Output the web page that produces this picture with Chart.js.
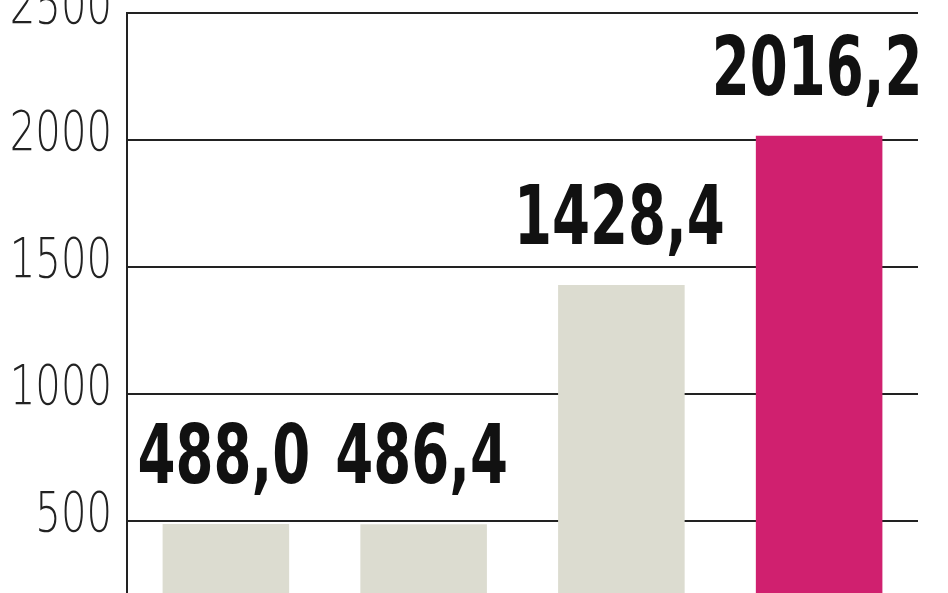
<!DOCTYPE html>
<html>
<head>
<meta charset="utf-8">
<script src="https://cdn.jsdelivr.net/npm/chart.js@4"></script>
<style>
  html, body { margin: 0; padding: 0; background: #fff; }
  #wrap { width: 948px; height: 593px; position: relative; }
</style>
</head>
<body>
<div id="wrap"><canvas id="barChart"></canvas></div>
<script>
const categories = ['A', 'B', 'C', 'D'];
const values = [488.0, 486.4, 1428.4, 2016.2];
const valueLabels = ['488,0', '486,4', '1428,4', '2016,2'];
const barColors = ['#dcdcd0', '#dcdcd0', '#dcdcd0', '#d0206f'];
const tickValues = [500, 1000, 1500, 2000, 2500];

// condensed text: the source uses a narrow font we don't have, so squeeze horizontally
function drawSqueezed(ctx, text, x, y, sx, align) {
    ctx.save();
    ctx.translate(x, y);
    ctx.scale(sx, 1);
    ctx.textAlign = align;
    ctx.fillText(text, 0, 0);
    ctx.restore();
}

const valueLabelPlugin = {
    id: 'valueLabels',
    afterDatasetsDraw(chart) {
        const ctx = chart.ctx;
        const meta = chart.getDatasetMeta(0);
        ctx.save();
        ctx.font = "bold 82px 'DejaVu Sans Condensed', 'DejaVu Sans', sans-serif";
        ctx.fillStyle = '#111';
        ctx.textBaseline = 'alphabetic';
        meta.data.forEach((bar, i) => {
            drawSqueezed(ctx, valueLabels[i], bar.x - 2, bar.y - 41, 0.74, 'center');
        });
        ctx.restore();
    }
};

// y tick labels, drawn by hand so they can be condensed
const tickLabelPlugin = {
    id: 'tickLabels',
    afterDraw(chart) {
        const ctx = chart.ctx;
        const y = chart.scales.y;
        ctx.save();
        ctx.font = "200 55px 'DejaVu Sans', sans-serif";
        ctx.fillStyle = '#222';
        ctx.textBaseline = 'alphabetic';
        tickValues.forEach(v => {
            drawSqueezed(ctx, String(v), y.right - 15, y.getPixelForValue(v) + 10, 0.73, 'right');
        });
        ctx.restore();
    }
};

const ctx = document.getElementById('barChart');
new Chart(ctx, {
    type: 'bar',
    data: {
        labels: categories,
        datasets: [{
            data: values,
            backgroundColor: barColors,
            borderWidth: 0,
            categoryPercentage: 1,
            barPercentage: 0.64
        }]
    },
    options: {
        responsive: true,
        maintainAspectRatio: false,
        animation: false,
        layout: { padding: { top: 13, right: 30, bottom: 0, left: 0 } },
        plugins: {
            legend: { display: false },
            tooltip: { enabled: false }
        },
        scales: {
            x: { display: false },
            y: {
                min: 216,
                max: 2500,
                afterBuildTicks: (axis) => {
                    axis.ticks = tickValues.map(v => ({ value: v }));
                },
                afterFit: (scale) => {
                    scale.width = 127;
                    scale.paddingTop = 0;
                    scale.paddingBottom = 0;
                },
                grid: {
                    color: '#222',
                    lineWidth: 2,
                    drawTicks: false
                },
                border: { display: true, color: '#222', width: 2 },
                ticks: { display: false }
            }
        }
    },
    plugins: [valueLabelPlugin, tickLabelPlugin]
});
</script>
</body>
</html>
